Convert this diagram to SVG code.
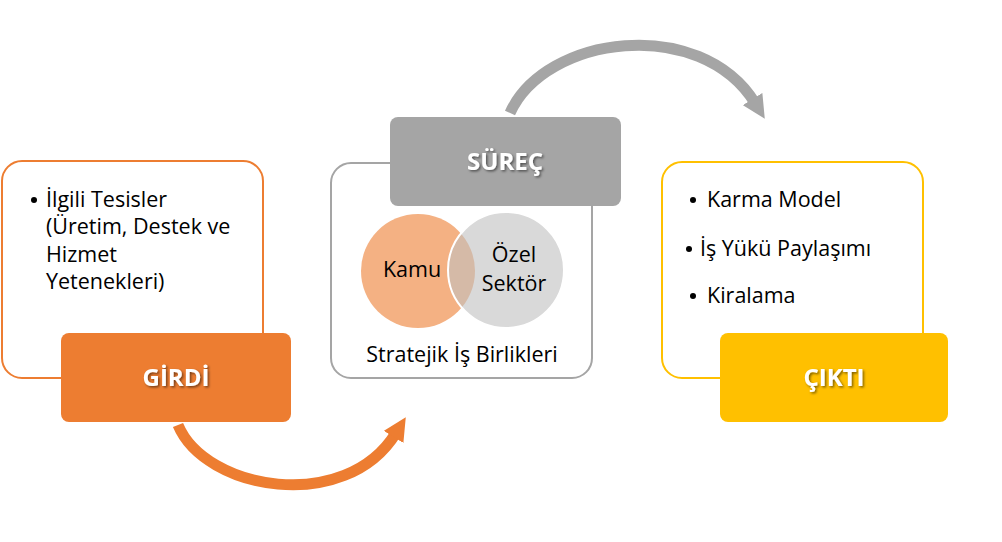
<svg xmlns="http://www.w3.org/2000/svg" width="1002" height="542" viewBox="0 0 1002 542">
<style>
.t{font-family:"Open Sans","Liberation Sans",sans-serif;font-size:21.5px;fill:#000}
.lbl{font-family:"Open Sans","Liberation Sans",sans-serif;font-size:24px;font-weight:bold;fill:#fff;text-anchor:middle}
.mid{text-anchor:middle}
</style>
<defs>
<filter id="sh" x="-20%" y="-20%" width="140%" height="160%">
<feDropShadow dx="1.5" dy="1.5" stdDeviation="1" flood-color="#000" flood-opacity="0.5"/>
</filter>
<marker id="ahg" viewBox="0 0 10 10" refX="2" refY="5" markerWidth="2.1" markerHeight="2.1" orient="auto" markerUnits="strokeWidth">
<path d="M0,0 L10,5 L0,10 Z" fill="#A5A5A5"/>
</marker>
<marker id="aho" viewBox="0 0 10 10" refX="2" refY="5" markerWidth="2.1" markerHeight="2.1" orient="auto" markerUnits="strokeWidth">
<path d="M0,0 L10,5 L0,10 Z" fill="#ED7D31"/>
</marker>
</defs>
<rect width="1002" height="542" fill="#fff"/>
<g id="connectors" fill="none">
<path d="M510,113 C545,35 700,15 755,103" stroke="#A5A5A5" stroke-width="11" marker-end="url(#ahg)"/>
<path d="M178,425 C205,490 345,515 396,433" stroke="#ED7D31" stroke-width="11" marker-end="url(#aho)"/>
</g>
<g id="girdi">
<rect x="2" y="161" width="261" height="217" rx="20" fill="#fff" stroke="#ED7D31" stroke-width="2"/>
<circle cx="34" cy="200" r="3" fill="#000"/>
<text class="t" x="46" y="207">İlgili Tesisler</text>
<text class="t" x="46" y="234">(Üretim, Destek ve</text>
<text class="t" x="46" y="262">Hizmet</text>
<text class="t" x="46" y="289">Yetenekleri)</text>
<rect x="61" y="333" width="230" height="89" rx="8" fill="#ED7D31"/>
<text class="lbl" x="176" y="386" filter="url(#sh)">GİRDİ</text>
</g>
<g id="surec">
<rect x="331" y="163" width="261" height="215" rx="20" fill="#fff" stroke="#A5A5A5" stroke-width="2"/>
<rect x="390" y="117" width="231" height="89" rx="8" fill="#A5A5A5"/>
<text class="lbl" x="505" y="170" filter="url(#sh)">SÜREÇ</text>
<circle cx="418" cy="271" r="57" fill="#F4B183"/>
<circle cx="506" cy="270" r="58" fill="#BFBFBF" fill-opacity="0.6" stroke="#fff" stroke-width="2"/>
<text class="t mid" x="412" y="277">Kamu</text>
<text class="t mid" x="514" y="262">Özel</text>
<text class="t mid" x="514" y="291">Sektör</text>
<text class="t mid" x="462" y="362">Stratejik İş Birlikleri</text>
</g>
<g id="cikti">
<rect x="662" y="162" width="261" height="216" rx="20" fill="#fff" stroke="#FFC000" stroke-width="2"/>
<circle cx="693" cy="200" r="3" fill="#000"/>
<text class="t" x="707" y="207">Karma Model</text>
<circle cx="689" cy="249" r="3" fill="#000"/>
<text class="t" x="700" y="256">İş Yükü Paylaşımı</text>
<circle cx="693" cy="296" r="3" fill="#000"/>
<text class="t" x="707" y="303">Kiralama</text>
<rect x="720" y="333" width="228" height="89" rx="8" fill="#FFC000"/>
<text class="lbl" x="834" y="386" filter="url(#sh)">ÇIKTI</text>
</g>
</svg>
